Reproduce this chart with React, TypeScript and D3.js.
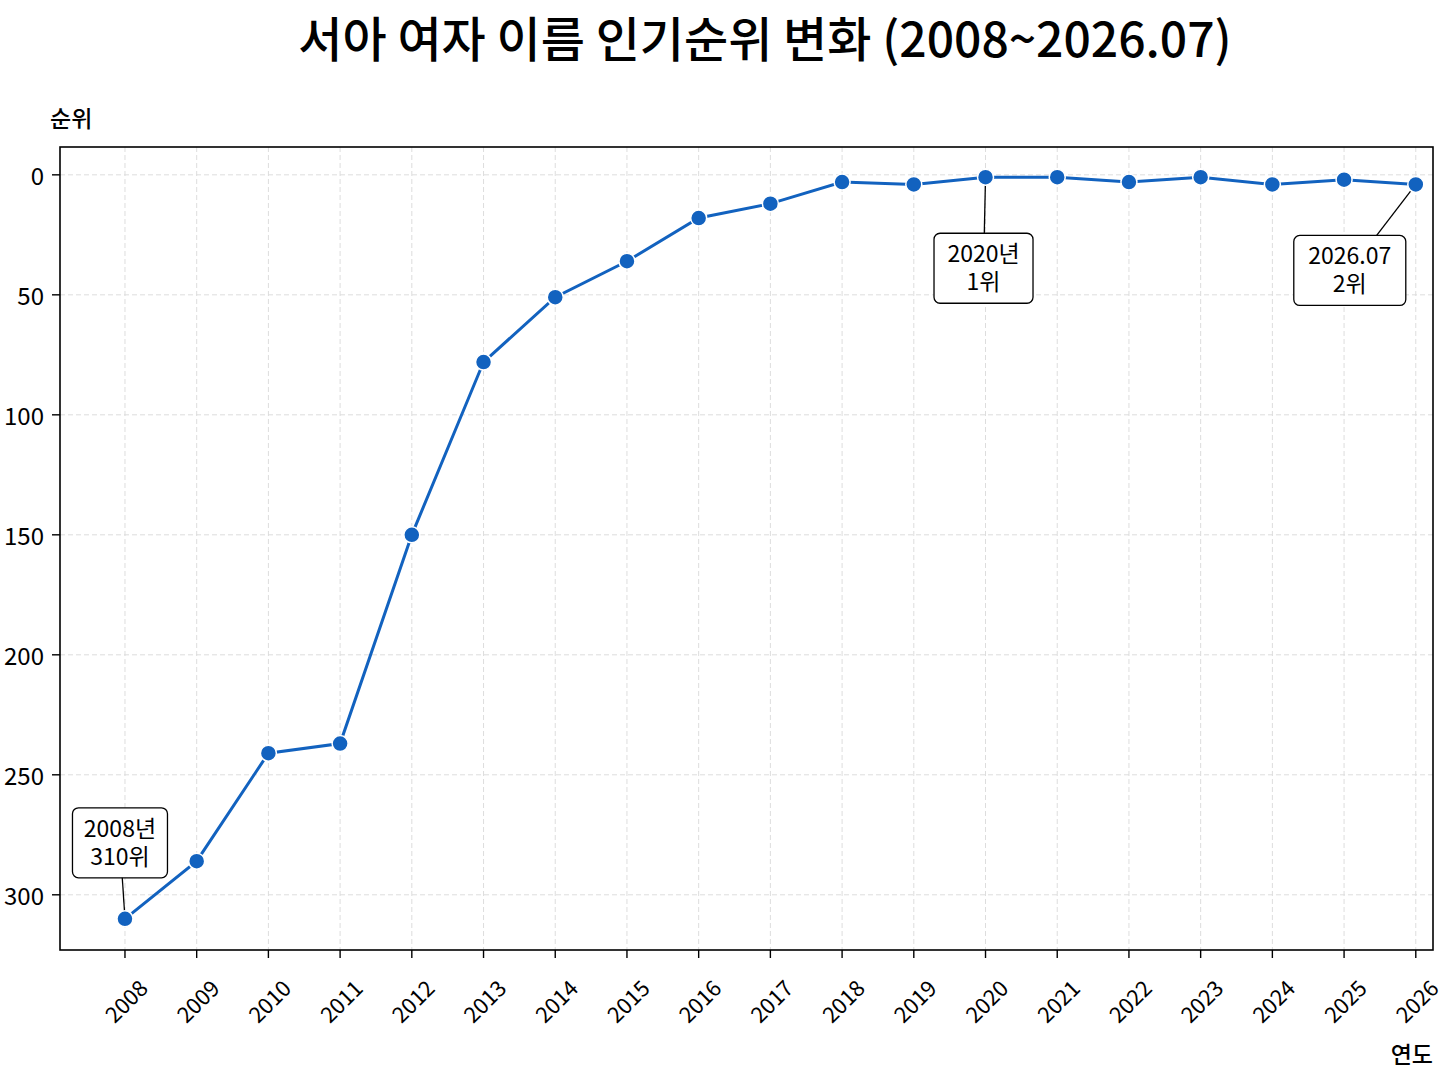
import * as d3 from "d3";

const WIDTH = 1448;
const HEIGHT = 1086;
const MARGIN = {top: 147, right: 15, bottom: 136, left: 60};
const FONT = "'Noto Sans CJK KR', 'Noto Sans', sans-serif";

const years = [2008, 2009, 2010, 2011, 2012, 2013, 2014, 2015, 2016, 2017, 2018, 2019, 2020, 2021, 2022, 2023, 2024, 2025, 2026];
const ranks = [310, 286, 241, 237, 150, 78, 51, 36, 18, 12, 3, 4, 1, 1, 3, 1, 4, 2, 4];
const yTicks = [0, 50, 100, 150, 200, 250, 300];

const notes = [
    {year: 2008, lines: ["2008년", "310위"]},
    {year: 2020, lines: ["2020년", "1위"]},
    {year: 2026, lines: ["2026.07", "2위"]},
];
// where each note box sits relative to its point, in px
const noteOffset: Record<number, {dx: number; dy: number; w: number}> = {
    2008: {dx: -5, dy: -76, w: 95},
    2020: {dx: -2, dy: 91, w: 99},
    2026: {dx: -66, dy: 86, w: 112},
};

const LINE_COLOR = "#1262bf";

export default function App() {
    const boundsWidth = WIDTH - MARGIN.left - MARGIN.right;
    const boundsHeight = HEIGHT - MARGIN.top - MARGIN.bottom;

    const xScale = d3.scaleLinear().domain([2007.094, 2026.24]).range([0, boundsWidth]);
    const yScale = d3.scaleLinear().domain([-11.6, 323]).range([0, boundsHeight]);

    const data = years.map((y, i) => ({year: y, rank: ranks[i]}));

    const line = d3
        .line<{year: number; rank: number}>()
        .x((d) => xScale(d.year))
        .y((d) => yScale(d.rank));

    return (
        <svg
            width={WIDTH}
            height={HEIGHT}
            style={{position: "absolute", left: 0, top: 0, background: "white"}}
            fontFamily={FONT}
        >
            <text x={765} y={57} textAnchor="middle" fontSize={48} fontWeight={500}>
                서아 여자 이름 인기순위 변화 (2008~2026.07)
            </text>
            <text x={50} y={121} dominantBaseline="middle" fontSize={23} fontWeight={500}>
                순위
            </text>
            <text x={1433} y={1057} textAnchor="end" dominantBaseline="middle" fontSize={23} fontWeight={500}>
                연도
            </text>

            <g transform={`translate(${[MARGIN.left, MARGIN.top].join(",")})`}>
                {/* grid */}
                {years.map((y) => (
                    <line
                        key={"gx" + y}
                        x1={xScale(y)}
                        x2={xScale(y)}
                        y1={0}
                        y2={boundsHeight}
                        stroke="#dddddd"
                        strokeDasharray="5,3"
                    />
                ))}
                {yTicks.map((t) => (
                    <line
                        key={"gy" + t}
                        x1={0}
                        x2={boundsWidth}
                        y1={yScale(t)}
                        y2={yScale(t)}
                        stroke="#dddddd"
                        strokeDasharray="5,3"
                    />
                ))}

                <rect width={boundsWidth} height={boundsHeight} fill="none" stroke="black" strokeWidth={1.6} />

                {/* y ticks */}
                {yTicks.map((t) => (
                    <g key={"ty" + t} transform={`translate(0,${yScale(t)})`}>
                        <line x1={-8} x2={0} stroke="black" strokeWidth={1.4} />
                        <text x={-16} textAnchor="end" dominantBaseline="central" fontSize={24}>
                            {t}
                        </text>
                    </g>
                ))}

                {/* x ticks */}
                {years.map((y) => (
                    <g key={"tx" + y} transform={`translate(${xScale(y)},${boundsHeight})`}>
                        <line y1={0} y2={8} stroke="black" strokeWidth={1.4} />
                        <text
                            transform="translate(0,50) rotate(-45)"
                            textAnchor="middle"
                            dominantBaseline="central"
                            fontSize={22}
                        >
                            {y}
                        </text>
                    </g>
                ))}

                <path d={line(data) ?? ""} fill="none" stroke={LINE_COLOR} strokeWidth={3} />

                {/* note connectors */}
                {notes.map((n) => {
                    const d = data.find((p) => p.year === n.year)!;
                    const o = noteOffset[n.year];
                    const px = xScale(d.year);
                    const py = yScale(d.rank);
                    return (
                        <line key={"nl" + n.year} x1={px} y1={py} x2={px + o.dx} y2={py + o.dy} stroke="black" strokeWidth={1.3} />
                    );
                })}

                {data.map((d) => (
                    <circle
                        key={"c" + d.year}
                        cx={xScale(d.year)}
                        cy={yScale(d.rank)}
                        r={8}
                        fill={LINE_COLOR}
                        stroke="white"
                        strokeWidth={1.5}
                    />
                ))}

                {/* note boxes */}
                {notes.map((n) => {
                    const d = data.find((p) => p.year === n.year)!;
                    const o = noteOffset[n.year];
                    const cx = xScale(d.year) + o.dx;
                    const cy = yScale(d.rank) + o.dy;
                    const h = 70;
                    return (
                        <g key={"nb" + n.year}>
                            <rect
                                x={cx - o.w / 2}
                                y={cy - h / 2}
                                width={o.w}
                                height={h}
                                rx={6}
                                fill="white"
                                stroke="black"
                                strokeWidth={1.3}
                            />
                            <text textAnchor="middle" fontSize={23}>
                                {n.lines.map((s, i) => (
                                    <tspan key={i} x={cx} y={cy + (i - 0.5) * 28 + 8}>
                                        {s}
                                    </tspan>
                                ))}
                            </text>
                        </g>
                    );
                })}
            </g>
        </svg>
    );
}
